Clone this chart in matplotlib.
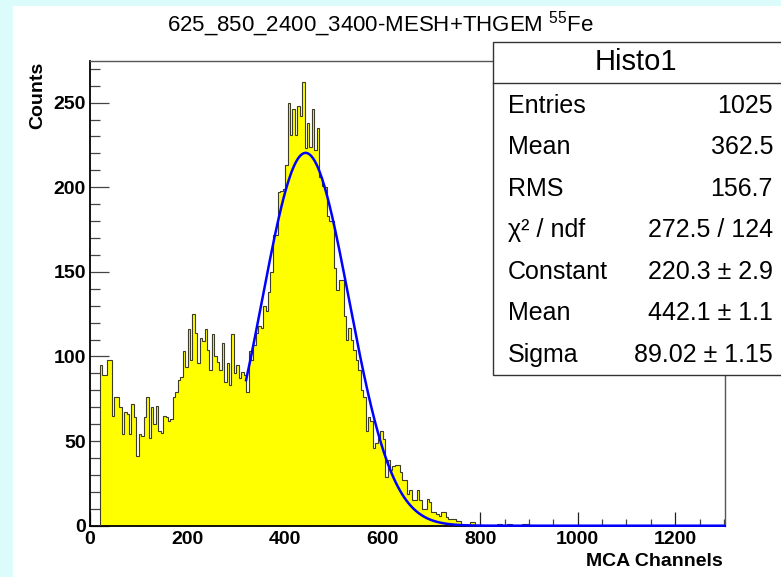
import numpy as np
import matplotlib
matplotlib.use("Agg")
import matplotlib.pyplot as plt
from matplotlib.patches import Rectangle
from matplotlib.lines import Line2D
from matplotlib.ticker import MultipleLocator

plt.rcParams['font.family'] = ['Liberation Sans', 'DejaVu Sans']
plt.rcParams['mathtext.fontset'] = 'custom'
plt.rcParams['mathtext.rm'] = 'Liberation Sans'

# MCA spectrum, 5-channel bins starting at channel 20
bin_start = 20
bin_width = 5
counts = (
    [95, 89, 89, 98, 98, 65, 76, 76, 70, 54] +          # 20-70
    [67, 66, 54, 72, 64, 41, 54, 53, 64, 76] +          # 70-120
    [52, 70, 60, 71, 56, 55, 65, 64, 62, 63] +          # 120-170
    [76, 79, 86, 88, 103, 94, 116, 98, 125, 114] +      # 170-220
    [96, 111, 109, 116, 104, 92, 113, 100, 97, 92] +    # 220-270
    [108, 85, 96, 83, 113, 90, 95, 87, 91, 89] +        # 270-320
    [79, 103, 98, 107, 114, 118, 117, 130, 127, 138] +  # 320-370
    [150, 172, 172, 197, 198, 199, 213, 250, 231, 246] +  # 370-420
    [231, 248, 242, 262, 223, 238, 224, 246, 222, 235] +  # 420-470
    [206, 201, 200, 183, 180, 180, 152, 139, 145, 145] +  # 470-520
    [124, 110, 117, 110, 104, 98, 92, 80, 76, 56] +     # 520-570
    [64, 62, 46, 49, 52, 56, 51, 29, 39, 33] +          # 570-620
    [35, 36, 36, 32, 27, 27, 19, 21, 15, 15] +          # 620-670
    [21, 15, 10, 10, 16, 14, 8, 8, 7, 6] +              # 670-720
    [8, 8, 5, 4, 4, 4, 3, 3, 0, 0] +                    # 720-770
    [0, 0, 2, 2, 0, 0, 0, 0, 0, 0] +                    # 770-820
    [0, 0, 0, 1, 1, 0, 0, 1, 1, 0] +                    # 820-870
    [0, 0, 0, 1, 1, 1]                                  # 870-900
)
counts = np.array(counts, dtype=float)
edges = bin_start + bin_width * np.arange(len(counts) + 1)

# Gaussian fit result
fit_const, fit_mean, fit_sigma = 220.3, 442.1, 89.02
fit_range = (320, 1300)

stats_title = "Histo1"
stats_labels = ["Entries", "Mean", "RMS", "\u03c7\u00b2 / ndf", "Constant", "Mean", "Sigma"]
stats_values = ["1025", "362.5", "156.7", "272.5 / 124",
                "220.3 \u00b1 2.9", "442.1 \u00b1 1.1", "89.02 \u00b1 1.15"]

W, H = 781, 577
fig = plt.figure(figsize=(W / 100, H / 100), dpi=100)
fig.patch.set_facecolor('white')

# light canvas border
cyan = '#dcfcfc'
fig.add_artist(Rectangle((0, 0), 13 / W, 1, transform=fig.transFigure,
                         facecolor=cyan, edgecolor='none', zorder=0))
fig.add_artist(Rectangle((0, 1 - 5.5 / H), 1, 5.5 / H, transform=fig.transFigure,
                         facecolor=cyan, edgecolor='none', zorder=0))

x0, x1, ytop, ybot = 90, 725, 61, 525.7
ax = fig.add_axes([x0 / W, 1 - ybot / H, (x1 - x0) / W, (ybot - ytop) / H])
ax.set_xlim(0, 1302)
ax.set_ylim(0, 274.6)

ax.stairs(counts, edges, fill=True, color='#ffff00', zorder=2)
ax.stairs(counts, edges, baseline=0, color='#3c3c28', linewidth=0.8, zorder=3)

xf = np.linspace(fit_range[0], fit_range[1], 600)
yf = fit_const * np.exp(-0.5 * ((xf - fit_mean) / fit_sigma) ** 2)
ax.plot(xf, yf, color='#0000ff', linewidth=1.8, zorder=4, clip_on=False)

for side in ('left', 'bottom'):
    ax.spines[side].set_color('black')
    ax.spines[side].set_linewidth(1.3)
for side in ('top', 'right'):
    ax.spines[side].set_color('#555555')
    ax.spines[side].set_linewidth(1.0)

ax.xaxis.set_major_locator(MultipleLocator(200))
ax.xaxis.set_minor_locator(MultipleLocator(50))
ax.yaxis.set_major_locator(MultipleLocator(50))
ax.yaxis.set_minor_locator(MultipleLocator(10))
ax.tick_params(axis='y', which='major', direction='in', length=13.5, width=0.9,
               color='#444444', pad=3, labelsize=14)
ax.tick_params(axis='y', which='minor', direction='in', length=7, width=0.9, color='#444444')
ax.tick_params(axis='x', which='major', direction='in', length=10, width=0.9,
               color='#222222', pad=4, labelsize=14)
ax.tick_params(axis='x', which='minor', direction='in', length=5, width=0.9, color='#444444')
for lab in ax.get_xticklabels() + ax.get_yticklabels():
    lab.set_fontweight('bold')

fig.text(38 / W, 1 - 61.5 / H, 'Counts', rotation=90, ha='center', va='top',
         fontsize=14, fontweight='bold')
fig.text(723 / W, 1 - 561.5 / H, 'MCA Channels', ha='right', va='center',
         fontsize=14, fontweight='bold')

fig.text(380 / W, 1 - 24 / H, r'625_850_2400_3400-MESH+THGEM $^{\mathregular{55}}$Fe',
         ha='center', va='center', fontsize=16)

# statistics box
bx0, bty, bby, hdr = 493, 42, 375, 83
fig.add_artist(Rectangle((bx0 / W, 1 - bby / H), (W + 10 - bx0) / W, (bby - bty) / H,
                         transform=fig.transFigure, facecolor='white',
                         edgecolor='#333333', linewidth=1.0, zorder=10))
fig.add_artist(Line2D([bx0 / W, 1], [1 - hdr / H] * 2, transform=fig.transFigure,
                      color='#333333', linewidth=1.0, zorder=11))
fig.text(636 / W, 1 - 62 / H, stats_title, ha='center', va='center',
         fontsize=21, zorder=12)
for i, (lab, val) in enumerate(zip(stats_labels, stats_values)):
    yy = 1 - (105.7 + i * 41.55) / H
    fig.text(508 / W, yy, lab, ha='left', va='center', fontsize=18, zorder=12)
    fig.text(773 / W, yy, val, ha='right', va='center', fontsize=18, zorder=12)

fig.savefig('out.png', dpi=100)
